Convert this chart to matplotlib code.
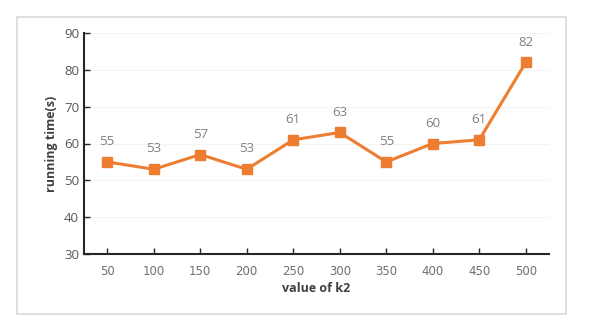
import matplotlib
matplotlib.use("Agg")
import matplotlib.pyplot as plt
from matplotlib.patches import Rectangle

categories = ["50", "100", "150", "200", "250", "300", "350", "400", "450", "500"]
running_time = [55, 53, 57, 53, 61, 63, 55, 60, 61, 82]
y_ticks = [30, 40, 50, 60, 70, 80, 90]

plt.rcParams['font.family'] = ['Open Sans', 'DejaVu Sans']

fig = plt.figure(figsize=(5.9, 3.33), dpi=100)
fig.patches.append(Rectangle((17/590, 1-314/333), (566-17)/590, (314-17)/333,
                             transform=fig.transFigure, fill=False,
                             edgecolor='#d9d9d9', linewidth=1.2))
ax = fig.add_axes([84/590, 1-254/333, (549-84)/590, (254-33)/333])

x = list(range(len(categories)))
ax.plot(x, running_time, color='#ED7D31', linewidth=2.2, marker='s',
        markersize=7, zorder=3)
for xi, v in zip(x, running_time):
    ax.annotate(str(v), (xi, v), xytext=(0, 10), textcoords='offset points',
                ha='center', va='bottom', color='#808080', fontsize=9.5)

ax.set_xlim(-0.5, len(categories) - 0.5)
ax.set_ylim(30, 90)
ax.set_yticks(y_ticks)
ax.set_xticks(x)
ax.set_xticklabels(categories)
ax.tick_params(axis='both', direction='in', length=4, width=1, color='#262626',
               labelcolor='#595959', labelsize=9.5)
ax.tick_params(axis='x', pad=8)
for lab in ax.get_xticklabels():
    lab.set_fontfamily(['DejaVu Sans'])
    lab.set_fontsize(8.5)
    lab.set_color('#6f6f6f')
ax.grid(axis='y', color='#f4f4f4', linewidth=0.8)
ax.set_axisbelow(True)
for s in ['top', 'right']:
    ax.spines[s].set_visible(False)
for s in ['left', 'bottom']:
    ax.spines[s].set_color('#262626')
    ax.spines[s].set_linewidth(1.5)

ax.set_xlabel('value of k2', fontsize=9, fontweight='bold', color='#404040', labelpad=3)
ax.set_ylabel('running time(s)', fontsize=9, fontweight='bold', color='#404040', labelpad=4)

fig.savefig('out.png', dpi=100)
